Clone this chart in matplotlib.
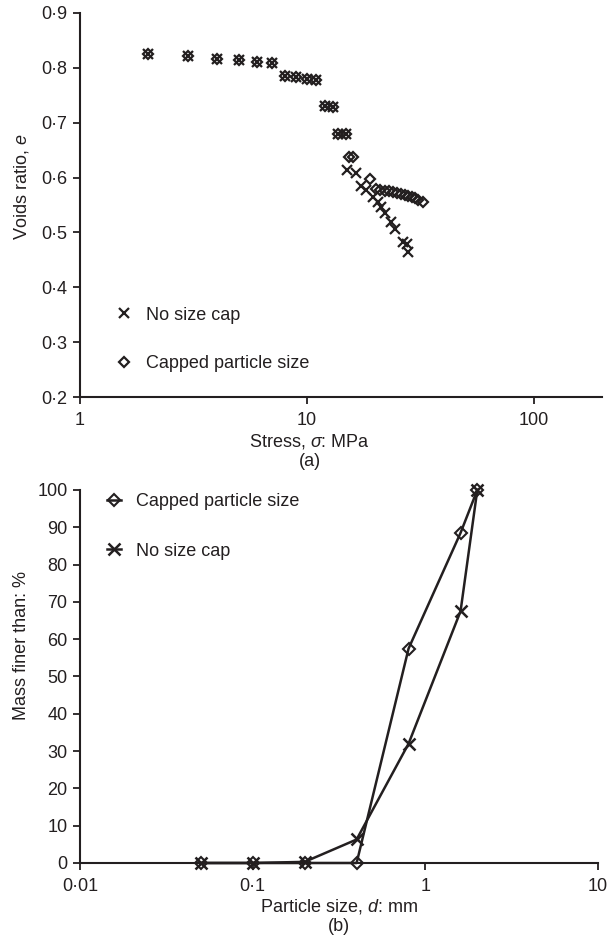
import numpy as np
import matplotlib.pyplot as plt
from matplotlib.ticker import FixedLocator, FixedFormatter, NullLocator

plt.rcParams['font.family'] = ['Liberation Sans', 'DejaVu Sans']
plt.rcParams['mathtext.fontset'] = 'custom'
plt.rcParams['mathtext.rm'] = 'Liberation Sans'
plt.rcParams['mathtext.it'] = 'Liberation Sans:italic'
plt.rcParams['font.size'] = 13

INK = '#231f20'

# (a) compression curves: stress (MPa) vs voids ratio
no_cap_stress = [2, 3, 4, 5, 6, 7, 8, 9, 10, 11, 12, 13, 13.7, 14.9,
                 15.1, 16.5, 17.3, 18.2, 19.5, 20.5, 21.2, 22.2, 23.5, 24.5,
                 26.5, 27.5, 27.9]
no_cap_e = [0.825, 0.821, 0.817, 0.814, 0.811, 0.808, 0.785, 0.783, 0.779, 0.777,
            0.730, 0.729, 0.680, 0.679,
            0.613, 0.608, 0.584, 0.578, 0.564, 0.556, 0.546, 0.536, 0.519, 0.506,
            0.482, 0.479, 0.464]

capped_stress = [2, 3, 4, 5, 6, 7, 8, 9, 10, 11, 12, 13, 13.7, 14.9,
                 15.4, 15.9, 18.9, 20.2, 21, 22, 23, 24, 25, 26, 27, 28, 29,
                 30, 31, 32.5]
capped_e = [0.825, 0.821, 0.817, 0.814, 0.811, 0.808, 0.785, 0.783, 0.779, 0.777,
            0.730, 0.729, 0.680, 0.679,
            0.638, 0.637, 0.598, 0.579, 0.577, 0.576, 0.575, 0.573, 0.572, 0.570,
            0.568, 0.566, 0.564, 0.562, 0.560, 0.555]

# (b) grading curves: particle size (mm) vs mass finer (%)
sizes = [0.05, 0.1, 0.2, 0.4, 0.8, 1.6, 2.0]
capped_finer = [0, 0, 0, 0, 57.5, 88.5, 100]
no_cap_finer = [0, 0, 0.3, 6.3, 32, 67.5, 100]

stress_ticks = [1, 10, 100]
stress_labels = ['1', '10', '100']
e_ticks = [0.2, 0.3, 0.4, 0.5, 0.6, 0.7, 0.8, 0.9]
size_ticks = [0.01, 0.1, 1, 10]
size_labels = ['0·01', '0·1', '1', '10']
finer_ticks = list(range(0, 101, 10))


def style_axes(ax):
    for side in ['top', 'right']:
        ax.spines[side].set_visible(False)
    for side in ['left', 'bottom']:
        ax.spines[side].set_color(INK)
        ax.spines[side].set_linewidth(1.5)
    ax.tick_params(direction='out', length=5, width=1.3, color=INK,
                   labelcolor=INK, labelsize=13, pad=4)
    ax.tick_params(axis='x', pad=6)
    ax.xaxis.set_minor_locator(NullLocator())


fig = plt.figure(figsize=(6.14, 9.41), dpi=100)

# --- (a) ---
ax1 = fig.add_axes([0.1303, 0.5781, 0.8502, 0.4081])
ax1.plot(no_cap_stress, no_cap_e, linestyle='none', marker='x', ms=7,
         mew=1.6, color=INK, label='No size cap')
ax1.plot(capped_stress, capped_e, linestyle='none', marker='D', ms=5.5,
         mew=1.6, mfc='none', color=INK, label='Capped particle size')
ax1.set_xscale('log')
ax1.set_xlim(1, 200)
ax1.set_ylim(0.2, 0.9)
ax1.xaxis.set_major_locator(FixedLocator(stress_ticks))
ax1.xaxis.set_major_formatter(FixedFormatter(stress_labels))
ax1.yaxis.set_major_locator(FixedLocator(e_ticks))
ax1.yaxis.set_major_formatter(FixedFormatter([f'{v:.1f}'.replace('.', '·') for v in e_ticks]))
style_axes(ax1)
ax1.set_xlabel('Stress, $\\it{\\sigma}$: MPa\n(a)', color=INK, fontsize=13, linespacing=1.15)
ax1.xaxis.set_label_coords(0.44, -0.092, transform=ax1.transAxes)
ax1.xaxis.label.set_va('top')
ax1.set_ylabel('Voids ratio, $\\it{e}$', color=INK, fontsize=13)
ax1.yaxis.set_label_coords(-0.094, 0.547)
ax1.legend(loc='lower left', bbox_to_anchor=(0.04, 0.022), frameon=False,
           handlelength=0.8, handletextpad=0.8, labelspacing=1.75, fontsize=13,
           labelcolor=INK)

# --- (b) ---
ax2 = fig.add_axes([0.1303, 0.0829, 0.8436, 0.3964])
ax2.plot(sizes, capped_finer, marker='D', ms=6, mew=1.5, mfc='none', lw=1.8,
         color=INK, label='Capped particle size', clip_on=False)
ax2.plot(sizes, no_cap_finer, marker='x', ms=8, mew=1.8, lw=1.8,
         color=INK, label='No size cap', clip_on=False)
ax2.set_xscale('log')
ax2.set_xlim(0.01, 10)
ax2.set_ylim(0, 100)
ax2.xaxis.set_major_locator(FixedLocator(size_ticks))
ax2.xaxis.set_major_formatter(FixedFormatter(size_labels))
ax2.yaxis.set_major_locator(FixedLocator(finer_ticks))
style_axes(ax2)
ax2.set_xlabel('Particle size, $\\it{d}$: mm\n(b)', color=INK, fontsize=13, linespacing=1.15)
ax2.xaxis.set_label_coords(0.5, -0.09, transform=ax2.transAxes)
ax2.xaxis.label.set_va('top')
ax2.set_ylabel('Mass finer than: %', color=INK, fontsize=13)
ax2.yaxis.set_label_coords(-0.097, 0.584)
ax2.legend(loc='upper left', bbox_to_anchor=(0.02, 1.035), frameon=False,
           handlelength=0.8, handletextpad=0.8, labelspacing=1.8, fontsize=13,
           labelcolor=INK)

fig.savefig('out.png', dpi=100)
